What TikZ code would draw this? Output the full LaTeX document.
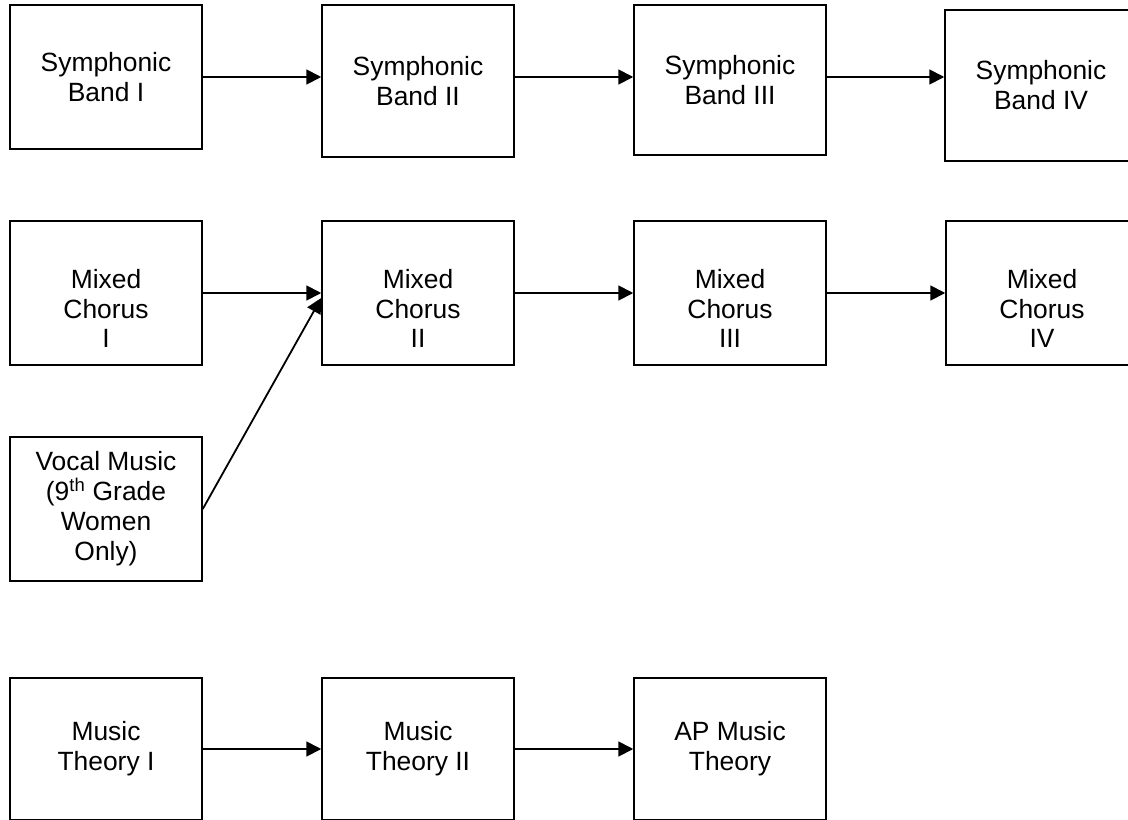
\documentclass[tikz,border=0pt]{standalone}
\usepackage{fontspec}
\setmainfont{Liberation Sans}
\usetikzlibrary{arrows.meta}
\begin{document}
\begin{tikzpicture}[x=1bp,y=-1bp]
  \useasboundingbox (0,0) rectangle (1128,820);
  \begin{scope}[every node/.style={draw,line width=1.5bp,minimum width=192bp,align=center,inner sep=0pt,font=\fontsize{26.5}{30}\selectfont}]
  \node[minimum height=144bp] (sb1) at (106,77) {Symphonic\\Band I};
  \node[minimum height=152bp] (sb2) at (418,81) {Symphonic\\Band II};
  \node[minimum height=150bp] (sb3) at (730,80) {Symphonic\\Band III};
  \node[minimum height=151bp] (sb4) at (1041,85.5) {Symphonic\\Band IV};
  \node[minimum height=144bp] (mc1) at (106,293) {\rule{0pt}{50bp}Mixed\\Chorus\\I};
  \node[minimum height=144bp] (mc2) at (418,293) {\rule{0pt}{50bp}Mixed\\Chorus\\II};
  \node[minimum height=144bp] (mc3) at (730,293) {\rule{0pt}{50bp}Mixed\\Chorus\\III};
  \node[minimum height=144bp] (mc4) at (1042,293) {\rule{0pt}{50bp}Mixed\\Chorus\\IV};
  \node[minimum height=144bp] (vm) at (106,509) {Vocal Music\\(9\textsuperscript{th} Grade\\Women\\Only)};
  \node[minimum height=142bp] (mt1) at (106,749) {Music\\Theory I};
  \node[minimum height=142bp] (mt2) at (418,749) {Music\\Theory II};
  \node[minimum height=142bp] (mt3) at (730,749) {AP Music\\Theory};
  \end{scope}
  \begin{scope}[every edge/.style={draw=black,line width=1.8bp,-{Triangle[length=15bp,width=15bp]}}]
  \path (sb1.east) edge (sb1.east -| sb2.west);
  \path (sb2.east |- sb1.east) edge (sb3.west |- sb1.east);
  \path (sb3.east |- sb1.east) edge (sb4.west |- sb1.east);
  \path (mc1) edge (mc2);
  \path (mc2) edge (mc3);
  \path (mc3) edge (mc4);
  \path (vm.east) edge ([yshift=-5bp]mc2.west);
  \path (mt1) edge (mt2);
  \path (mt2) edge (mt3);
  \end{scope}
\end{tikzpicture}
\end{document}
